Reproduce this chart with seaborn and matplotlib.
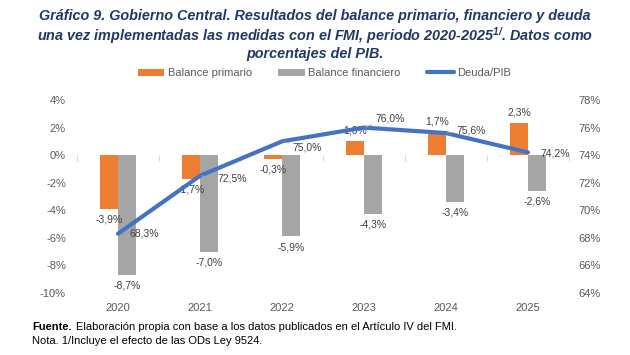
import numpy as np
import pandas as pd
import matplotlib
matplotlib.use("Agg")
import matplotlib.pyplot as plt
import seaborn as sns

years = ["2020", "2021", "2022", "2023", "2024", "2025"]
balance_primario = [-3.9, -1.7, -0.3, 1.0, 1.7, 2.3]
balance_financiero = [-8.7, -7.0, -5.9, -4.3, -3.4, -2.6]
deuda_pib = [68.3, 72.5, 75.0, 76.0, 75.6, 74.2]
left_ticks = [-10, -8, -6, -4, -2, 0, 2, 4]
right_ticks = [64, 66, 68, 70, 72, 74, 76, 78]
series_names = ["Balance primario", "Balance financiero", "Deuda/PIB"]

ORANGE = "#ED7D31"
GRAY = "#A5A5A5"
BLUE = "#4472C4"
TXT = "#404040"
TICK = "#595959"

sns.set_theme(style="white")
plt.rcParams["font.family"] = ["Liberation Sans", "DejaVu Sans"]
plt.rcParams["mathtext.fontset"] = "custom"
plt.rcParams["mathtext.rm"] = "Liberation Sans:bold:italic"
plt.rcParams["mathtext.it"] = "Liberation Sans:bold:italic"
plt.rcParams["mathtext.bf"] = "Liberation Sans:bold:italic"

df = pd.DataFrame({
    "year": years * 2,
    "series": [series_names[0]] * len(years) + [series_names[1]] * len(years),
    "value": balance_primario + balance_financiero,
})

fig = plt.figure(figsize=(6.3, 3.55), dpi=100)
ax = fig.add_axes([77 / 630, 1 - 293 / 355, 492 / 630, 193 / 355])

sns.barplot(data=df, x="year", y="value", hue="series", order=years,
            hue_order=series_names[:2], palette=[ORANGE, GRAY], width=0.43,
            saturation=1, ax=ax, linewidth=0)
bar_handles = list(ax.get_legend().legend_handles)
ax.get_legend().remove()

ax.set_ylim(left_ticks[0], left_ticks[-1])
ax.set_yticks(left_ticks)
ax.set_yticklabels([f"{t}%" for t in left_ticks])
ax.set_xlabel("")
ax.set_ylabel("")
for s in ax.spines.values():
    s.set_visible(False)
ax.tick_params(axis="both", length=0, labelsize=8, labelcolor=TICK)
ax.tick_params(axis="x", pad=7)
ax.tick_params(axis="y", pad=8)

def fmt(v):
    return f"{v:.1f}%".replace(".", ",")

# bar labels
for cont, vals in zip(ax.containers, [balance_primario, balance_financiero]):
    ax.bar_label(cont, labels=[fmt(v) for v in vals], padding=4,
                 fontsize=7.5, color=TXT)

# zero line with boundary ticks
loc0 = (0 - left_ticks[0]) / (left_ticks[-1] - left_ticks[0])
sec = ax.secondary_xaxis(loc0)
sec.set_xticks(np.arange(-0.5, len(years), 1.0))
sec.set_xticklabels([])
sec.tick_params(length=4, color="#D9D9D9", width=0.8, direction="in")
sec.spines["bottom"].set_color("#D9D9D9")
sec.spines["bottom"].set_linewidth(0.8)
for k in ["top", "left", "right"]:
    sec.spines[k].set_visible(False)

# debt line
ax2 = ax.twinx()
pos = np.arange(len(years))
sns.lineplot(x=pos, y=deuda_pib, ax=ax2, color=BLUE, linewidth=3,
             label=series_names[2], legend=False)
ax2.set_ylim(right_ticks[0], right_ticks[-1])
ax2.set_yticks(right_ticks)
ax2.set_yticklabels([f"{t}%" for t in right_ticks])
ax2.set_ylabel("")
for s in ax2.spines.values():
    s.set_visible(False)
ax2.tick_params(axis="y", length=0, labelsize=8, labelcolor=TICK, pad=7)
ax.set_xlim(-0.5, len(years) - 0.5)

offsets = [(12, 0, False), (17, -3, True), (10, -6, True), (11, 9, True), (10, 3, True), (12, -1, False)]
for x, v, (dx, dy, lead) in zip(pos, deuda_pib, offsets):
    kw = {}
    if lead:
        kw["arrowprops"] = dict(arrowstyle="-", color="#A6A6A6", lw=0.6,
                                shrinkA=0, shrinkB=1)
    ax2.annotate(fmt(v), xy=(x, v), xytext=(dx, dy), textcoords="offset pixels",
                 ha="left", va="center", fontsize=7.5, color=TXT, **kw)

line_handle = ax2.get_lines()[0]
fig.legend(bar_handles + [line_handle], series_names, loc="center",
           bbox_to_anchor=(0.515, 1 - 73 / 355), ncol=3, frameon=False,
           fontsize=8, handlelength=2.4, handleheight=0.6, columnspacing=2.4,
           handletextpad=0.3, labelcolor=TICK)

title = ("Gráfico 9. Gobierno Central. Resultados del balance primario, financiero y deuda\n"
         "una vez implementadas las medidas con el FMI, periodo 2020-2025$^{1/}$. Datos como\n"
         "porcentajes del PIB.")
fig.text(0.5, 1 - 9 / 355, title, ha="center", va="top", fontsize=10.4,
         fontweight="bold", fontstyle="italic", color="#1F3864", linespacing=1.12)

fig.text(32 / 630, 1 - 327 / 355, "Fuente.", ha="left", va="center",
         fontsize=8, fontweight="bold", color="black")
fig.text(76 / 630, 1 - 327 / 355,
         "Elaboración propia con base a los datos publicados en el Artículo IV del FMI.",
         ha="left", va="center", fontsize=8, color="black")
fig.text(32 / 630, 1 - 341 / 355, "Nota. 1/Incluye el efecto de las ODs Ley 9524.",
         ha="left", va="center", fontsize=8, color="black")

fig.savefig("out.png", dpi=100, facecolor="white")
